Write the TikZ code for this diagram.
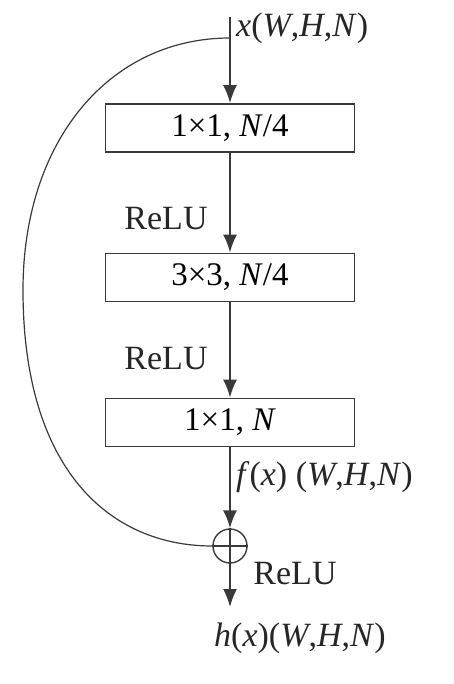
\documentclass[tikz,border=0pt]{standalone}
\usepackage{fontspec}
\setmainfont{Liberation Serif}
\usetikzlibrary{arrows.meta}
\definecolor{linec}{HTML}{3A3A3A}
\begin{document}
\begin{tikzpicture}[x=1pt,y=-1pt,
  box/.style={draw=linec, line width=1.8pt, minimum width=249pt, minimum height=48pt, inner sep=0pt, font=\fontsize{33}{38}\selectfont},
  lbl/.style={font=\fontsize{34}{40}\selectfont, inner sep=0pt, text=black!85},
  arr/.style={draw=linec, line width=1.8pt, -{Latex[length=18pt,width=14pt]}},
  skip/.style={draw=linec, line width=1.2pt},
  addc/.style={circle, draw=linec, line width=1.4pt, minimum size=34pt, inner sep=0pt}
]
\useasboundingbox (0,0) rectangle (454,684);
\coordinate (top) at (230,17);
\coordinate (j) at (230,38);
\node[lbl, anchor=west] (xin) at (236,28) {\textit{x}(\textit{W},\textit{H},\textit{N})};
\node[box] (b1) at (230,128) {1×1, \textit{N}/4};
\node[box] (b2) at (230,277.5) {3×3, \textit{N}/4};
\node[box] (b3) at (230,422.5) {1×1, \textit{N}};
\node[lbl] (r1) at (166,219) {ReLU};
\node[lbl] (r2) at (166,359) {ReLU};
\node[lbl, anchor=west] (fx) at (236,477) {\textit{f}(\textit{x}) (\textit{W},\textit{H},\textit{N})};
\node[addc] (add) at (230,546) {};
\draw[linec, line width=1.4pt] (add.west) -- (add.east) (add.north) -- (add.south);
\node[lbl] (r3) at (295,574) {ReLU};
\coordinate (out) at (230,607);
\node[lbl] (hx) at (300,638) {\textit{h}(\textit{x})(\textit{W},\textit{H},\textit{N})};
\draw[arr] (top) -- (b1.north);
\draw[arr] (b1) -- (b2);
\draw[arr] (b2) -- (b3);
\draw[arr] (b3) -- (add);
\draw[arr] (add) -- (out);
\draw[skip] (j) .. controls (110,38) and (23,140) .. (23,290) .. controls (23,470) and (110,546) .. (add.west);
\end{tikzpicture}
\end{document}
